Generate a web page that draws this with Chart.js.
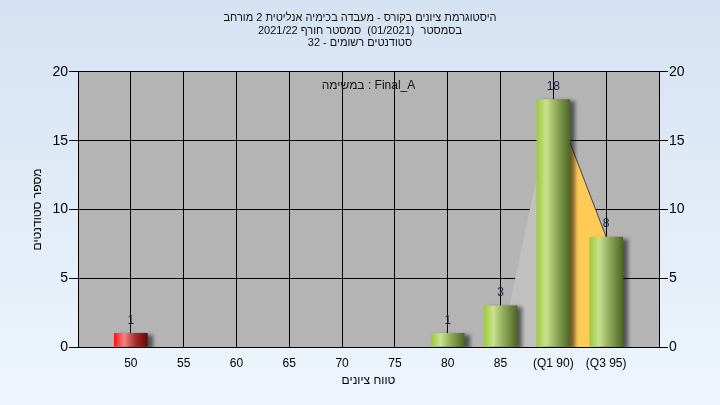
<!DOCTYPE html>
<html>
<head>
<meta charset="utf-8">
<script src="https://cdn.jsdelivr.net/npm/chart.js@4/dist/chart.umd.min.js"></script>
<style>
  html, body { margin: 0; padding: 0; }
  body { width: 720px; height: 405px; background: linear-gradient(#d5e2f3, #eef5fc); }
  canvas { display: block; }
</style>
</head>
<body>
<canvas id="histChart" width="720" height="405"></canvas>
<script>
// grade bins and number of students in each one
const categories = [50, 55, 60, 65, 70, 75, 80, 85, 90, 95];
const counts = [1, 0, 0, 0, 0, 0, 1, 3, 18, 8];
const tickLabels = ['50', '55', '60', '65', '70', '75', '80', '85', '(Q1 90)', '(Q3 95)'];

// shaded quartile areas behind the bars
const lowAreaX = [85, 90];
const lowAreaY = [0, 18];
const highAreaX = [90, 95];
const highAreaY = [18, 8];

const titleLines = [
    'היסטוגרמת ציונים בקורס - מעבדה בכימיה אנליטית 2 מורחב',
    'בסמסטר  (01/2021)  סמסטר חורף 2021/22',
    'סטודנטים רשומים - 32'
];
const taskText = 'במשימה : Final_A';
const passGrade = 55;

Chart.defaults.font.family = '"Liberation Sans", "DejaVu Sans", sans-serif';
Chart.defaults.color = '#000';

// empty bins get no bar at all (otherwise the shadow leaves a smudge)
const barData = categories.map((c, i) => ({ x: c, y: counts[i] || null }));
const lowArea = lowAreaX.map((x, i) => ({ x: x, y: lowAreaY[i] }));
const highArea = highAreaX.map((x, i) => ({ x: x, y: highAreaY[i] }));

function barFill(context) {
    const chart = context.chart;
    const xs = chart.scales.x;
    if (!xs || context.type !== 'data') return '#9acd32';
    const cx = xs.getPixelForValue(context.raw.x);
    if (!isFinite(cx)) return '#9acd32';
    const g = chart.ctx.createLinearGradient(cx - 16.5, 0, cx + 16.5, 0);
    if (context.raw.x < passGrade) {
        g.addColorStop(0, '#ff1414');
        g.addColorStop(0.3, '#f08484');
        g.addColorStop(0.65, '#a82828');
        g.addColorStop(1, '#640808');
    } else {
        g.addColorStop(0, '#9ccb3a');
        g.addColorStop(0.28, '#c9e28e');
        g.addColorStop(0.6, '#8fa95a');
        g.addColorStop(1, '#4d6823');
    }
    return g;
}

const plotBackground = {
    id: 'plotBackground',
    beforeDraw(chart) {
        const { ctx, chartArea: a } = chart;
        ctx.save();
        ctx.fillStyle = '#b4b4b4';
        ctx.fillRect(a.left, a.top, a.right - a.left, a.bottom - a.top);
        ctx.restore();
    }
};

const barShadow = {
    id: 'barShadow',
    beforeDatasetDraw(chart, args) {
        if (args.meta.type !== 'bar') return;
        const ctx = chart.ctx;
        ctx.save();
        ctx.shadowColor = 'rgba(0,0,0,0.55)';
        ctx.shadowBlur = 4;
        ctx.shadowOffsetX = 5;
        ctx.shadowOffsetY = 2;
    },
    afterDatasetDraw(chart, args) {
        if (args.meta.type !== 'bar') return;
        chart.ctx.restore();
    }
};

const barLabels = {
    id: 'barLabels',
    afterDatasetsDraw(chart) {
        const ctx = chart.ctx;
        const meta = chart.getDatasetMeta(0);
        ctx.save();
        ctx.font = '12px "Liberation Sans", "DejaVu Sans", sans-serif';
        ctx.fillStyle = '#16213f';
        ctx.textAlign = 'center';
        ctx.textBaseline = 'bottom';
        meta.data.forEach((el, i) => {
            if (!counts[i]) return;
            ctx.fillText(String(counts[i]), el.x, el.y - 7);
        });
        ctx.restore();
    }
};

const taskLabel = {
    id: 'taskLabel',
    afterDraw(chart) {
        const { ctx, chartArea: a } = chart;
        ctx.save();
        ctx.font = '12px "Liberation Sans", "DejaVu Sans", sans-serif';
        ctx.fillStyle = '#111';
        ctx.textAlign = 'center';
        ctx.textBaseline = 'middle';
        ctx.fillText(taskText, (a.left + a.right) / 2, a.top + 14);
        ctx.restore();
    }
};

new Chart(document.getElementById('histChart'), {
    type: 'bar',
    data: {
        datasets: [{
            type: 'bar',
            data: barData,
            backgroundColor: barFill,
            borderWidth: 0,
            barThickness: 33,
            order: 1
        }, {
            type: 'line',
            data: highArea,
            fill: 'origin',
            backgroundColor: '#ffcb57',
            borderColor: '#444',
            borderWidth: 1,
            pointRadius: 0,
            tension: 0,
            order: 2
        }, {
            type: 'line',
            data: lowArea,
            fill: 'origin',
            backgroundColor: '#c0c0c0',
            borderWidth: 0,
            pointRadius: 0,
            tension: 0,
            order: 3
        }]
    },
    options: {
        responsive: false,
        animation: false,
        layout: { padding: 0 },
        plugins: {
            legend: { display: false },
            tooltip: { enabled: false },
            title: {
                display: true,
                text: titleLines,
                font: { size: 11, weight: 'normal', lineHeight: 1.12 },
                color: '#111',
                padding: { top: 12, bottom: 23 }
            }
        },
        scales: {
            x: {
                type: 'linear',
                min: 45,
                max: 100,
                offset: false,
                grid: { offset: false, color: '#000', drawTicks: false },
                border: { color: '#000' },
                ticks: {
                    stepSize: 5,
                    autoSkip: false,
                    maxRotation: 0,
                    padding: 9,
                    font: { size: 12 },
                    callback: (v) => {
                        const i = categories.indexOf(v);
                        return i >= 0 ? tickLabels[i] : '';
                    }
                },
                title: {
                    display: true,
                    text: 'טווח ציונים',
                    font: { size: 12 },
                    padding: { top: 0, bottom: 17 }
                },
                afterFit: (s) => { s.height = 58; }
            },
            y: {
                position: 'left',
                min: 0,
                max: 20,
                grid: { color: '#000', tickLength: 9 },
                border: { color: '#000' },
                ticks: { stepSize: 5, padding: 1, font: { size: 14 } },
                title: {
                    display: true,
                    text: 'מספר סטודנטים',
                    font: { size: 12 },
                    padding: { top: 30, bottom: 0 }
                },
                afterFit: (s) => { s.width = 78; }
            },
            y2: {
                position: 'right',
                min: 0,
                max: 20,
                grid: { drawOnChartArea: false, color: '#000', tickLength: 9 },
                border: { color: '#000' },
                ticks: { stepSize: 5, padding: 1, font: { size: 14 } },
                afterFit: (s) => { s.width = 61; }
            }
        }
    },
    plugins: [plotBackground, barShadow, barLabels, taskLabel]
});
</script>
</body>
</html>
